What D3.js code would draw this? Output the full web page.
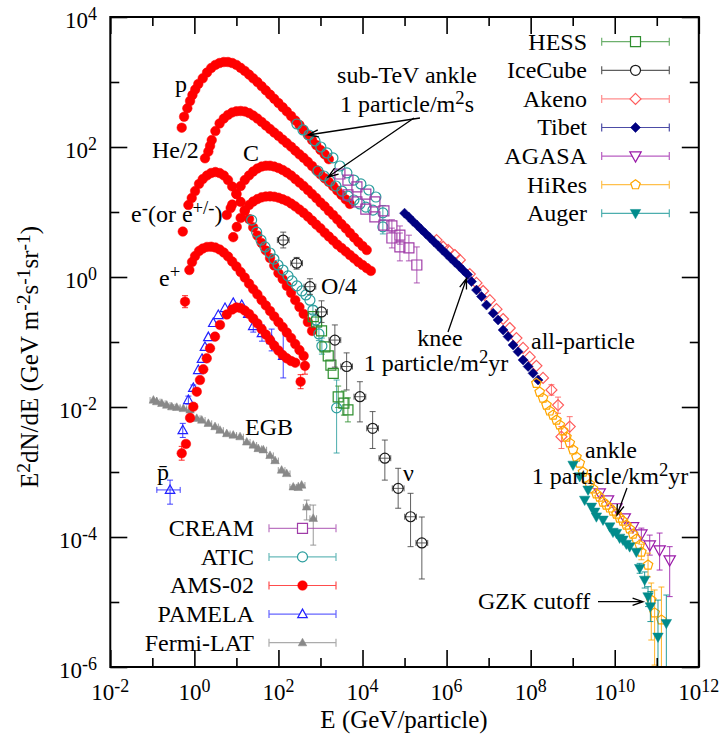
<!DOCTYPE html>
<html><head><meta charset="utf-8">
<script src="https://cdn.jsdelivr.net/npm/d3@7"></script>
<style>
body{margin:0;background:#fff;}
svg text{font-family:"Liberation Serif","Times New Roman",serif;fill:#000;}
</style></head><body>
<svg id="chart" width="719" height="745"></svg>
<script>
// ---------------- DATA (E in GeV/particle, F = E^2 dN/dE in GeV m^-2 s^-1 sr^-1) ----------------
// point format: [E, F, Flow, Fhigh, Elow, Ehigh] (error entries optional)
const xTickExponents = [-2,-1,0,1,2,3,4,5,6,7,8,9,10,11,12];
const yTickExponents = [-6,-5,-4,-3,-2,-1,0,1,2,3,4];
const xLabelExponents = ["-2","0","2","4","6","8","10","12"];
const yLabelExponents = ["-6","-4","-2","0","2","4"];

const amsProton = [[0.50,198],[0.57,292],[0.68,394],[0.79,510],[0.90,631],[1.05,767],[1.24,931],
 [1.58,1140],[2.0,1400],[2.51,1640],[3.16,1830],[3.98,1960],[5.01,2030],[6.31,2030],[7.94,1960],[10,1830],
 [12.6,1650],[15.8,1480],[20,1300],[25.1,1140],[31.6,1000],[39.8,861],[50.1,743],[63.1,640],[79.4,552],
 [100,475],[126,409],[158,352],[200,300],[251,256],[316,218],[398,183],[501,153],[631,128],[794,107],
 [1000,90],[1260,77],[1580,65]];
const amsHeliumHalf = [[1.79,67],[2.15,85],[2.36,104],[2.59,128],[3.16,176],[3.98,230],[5.01,274],[6.31,311],
 [7.94,340],[10,354],[12.6,358],[15.8,352],[20,333],[25.1,305],[31.6,274],[39.8,243],[50.1,214],[63.1,189],
 [79.4,167],[100,148],[126,130],[158,115],[200,101],[251,88],[316,77],[398,68],[501,59],[631,51],[794,44],
 [1000,38],[1260,33],[1580,29],[2000,25],[2510,21.4],[3160,18.3],[3980,15.6],[5010,13.3]];
const amsCarbon = [[5.9,9.0],[7.3,11.5],[7.94,13.0],[10,18.9],[12.6,25],[15.8,31],[20,36.5],[25.1,42],[31.6,46.7],
 [39.8,50],[50.1,51.5],[63.1,51.5],[79.4,50],[100,47.5],[126,44.3],[158,40.5],[200,36.5],[251,32.2],[316,28.4],
 [398,25.1],[501,21.8],[631,18.9],[794,16.4],[1000,14.0],[1260,12.2],[1580,10.4],[2000,9.0],[2510,7.7],
 [3160,6.5],[3980,5.6],[5010,4.75],[6310,4.05],[7940,3.45],[10000,3.0],[12600,2.6]];
const amsOxygenQuarter = [[8.4,4.1],[10.2,5.9],[12.6,8.1],[15.8,10.5],[20,12.8],[25.1,14.5],[31.6,15.8],[39.8,16.8],
 [50.1,17.3],[63.1,17.4],[79.4,17.2],[100,16.6],[126,15.7],[158,14.8],[200,13.5],[251,12.2],[316,10.9],[398,9.7],
 [501,8.5],[631,7.4],[794,6.4],[1000,5.6],[1260,4.8],[1580,4.2],[2000,3.65],[2510,3.16],[3160,2.8],[3980,2.47],
 [5010,2.18],[6310,1.93],[7940,1.70],[10000,1.53],[12600,1.37],[15800,1.24]];
const amsElectron = [[0.53,5.0],[0.72,12.8],[0.865,16.4],[1.04,21],[1.29,27],[1.58,32],[2.0,36.5],[2.51,39.8],
 [3.16,41.2],[3.98,39.8],[5.01,36.5],[6.31,31],[7.94,24.7],[10,18.9],[12.6,14.3],[15.8,10.5],[20,7.8],[25.1,5.8],
 [31.6,4.35],[39.8,3.33],[50.1,2.56],[63.1,1.96],[79.4,1.50],[100,1.15],[126,0.93],[158,0.73],[200,0.57],
 [251,0.44],[316,0.345],[398,0.27],[501,0.203],[631,0.148]];
const amsPositron = [[0.60,0.417,0.337,0.516],[0.76,1.28],[0.88,1.70],[1.04,2.10],[1.29,2.51],[1.58,2.74],[2.0,2.90],
 [2.51,2.92],[3.16,2.84],[3.98,2.65],[5.01,2.38],[6.31,2.07],[7.94,1.73],[10,1.45],[12.6,1.19],[15.8,0.98],
 [20,0.79],[25.1,0.65],[31.6,0.54],[39.8,0.44],[50.1,0.365],[63.1,0.30],[79.4,0.247],[100,0.203],[126,0.170],
 [158,0.140],[200,0.115],[251,0.093],[316,0.075],[398,0.061],[427,0.043,0.032,0.057]];
const amsAntiproton = [[0.50,0.00194,0.00152,0.00248],[0.63,0.0027],[0.79,0.0068],[0.945,0.0101],[1.14,0.0172],
 [1.36,0.026],[1.63,0.038],[1.97,0.056],[2.36,0.080],[3.10,0.121],[4.07,0.183],[5.9,0.265],[7.94,0.316],[10,0.34],
 [12.6,0.333],[15.8,0.305],[20,0.27],[25.1,0.23],[31.6,0.193],[39.8,0.158],[50.1,0.130],[63.1,0.107],[79.4,0.088],
 [100,0.074],[126,0.063],[158,0.056],[200,0.051],[251,0.048],[337,0.0245,0.0191,0.0314]];
const pamelaAntiproton = [[0.53,0.0044,0.0034,0.0056],[0.72,0.0128,0.0111,0.0147],[0.945,0.0196,0.0176,0.0218],
 [1.24,0.037],[1.52,0.055],[1.79,0.084],[2.15,0.119],[2.82,0.196],[3.71,0.26],[5.36,0.333],[8.4,0.40],[13.4,0.37],
 [19.2,0.27],[25.2,0.176,0.142,0.218],[40.6,0.137,0.103,0.182],[69,0.107,0.073,0.158],[130,0.061,0.028,0.153]];
const pamelaLowPbar = [[0.264,0.00053,0.00032,0.00075,0.128,0.46]];
const fermiEGB = [[0.106,0.0128],[0.127,0.0121],[0.168,0.0114],[0.220,0.0107],[0.290,0.0101],[0.381,0.0099],
 [0.547,0.0095],[0.79,0.009],[1.14,0.0067],[1.50,0.0063],[2.15,0.0056],[3.10,0.0050],[4.07,0.0044],[5.9,0.0039],
 [8.4,0.0037],[12.2,0.0035],[17.6,0.0029],[25.2,0.0026],[33,0.0023],[43.6,0.0022],[63,0.0018],[83,0.0015],
 [119,0.00107],[157,0.00095],[225,0.00059],[296,0.00058],[356,0.00063],[469,0.00029,0.000183,0.00037],
 [673,0.000194,0.000075,0.00031]];
const aticElectron = [[23,7.5],[30.3,4.9],[38.4,3.7],[47.9,2.9],[63,2.34],[78,1.89],[97.5,1.53],[128,1.28],[169,1.04],
 [210,0.87],[275,0.73],[362,0.61],[451,0.53],[561,0.44],[661,0.31,0.27,0.36],[780,0.218,0.18,0.26],
 [918,0.133,0.105,0.17],[1080,0.087,0.065,0.115],[2420,0.0097,0.00196,0.026]];
const aticProton = [[275,226],[383,183],[531,153],[738,124],[1020,100],[1420,81],[1980,68],[2900,51],[4250,40],
 [6240,31],[9150,27],[14200,21.8],[20800,17.0],[30500,9.7,7.5,12.6]];
const aticHelium = [[871,42.7],[1210,35.8],[1680,30],[2330,25.1],[3240,21],[4500,17.6],[6240,15.3],[8670,13.3],
 [12000,11.9],[17700,10.7],[30500,5.9,4.6,7.5]];
const creamProton = [[2900,38.4],[4500,31],[7360,24.3],[12000,18.9],[19700,14.3],[32300,10.4],[50000,6.1,4.9,7.6],
 [77500,4.4,3.2,6.1],[127000,2.8,1.77,4.4]];
const creamHelium = [[4500,18.3],[7360,14.3],[12000,11.1],[19700,8.4],[32300,6.3],[50000,3.98,2.8,5.65],
 [77500,2.9,1.77,4.75],[196000,1.53,0.81,2.9]];
const hessElectron = [[673,0.245],[809,0.203],[1060,0.148],[1280,0.084],[1530,0.061],[1770,0.044],[2010,0.033],
 [2640,0.0143,0.0098,0.021],[3610,0.0115,0.0075,0.0176],[4500,0.009,0.0059,0.0138]];
const iceCubeNeutrino = [[130,3.7,2.8,4.9],[271,1.63,1.32,2.0],[561,0.71,0.54,0.94],[1060,0.29,0.20,0.43],
 [2200,0.107,0.041,0.183],[4190,0.042,0.0183,0.068],[8670,0.0144,0.0059,0.0245],[17400,0.0047,0.0023,0.0085],
 [34000,0.00163,0.00075,0.0031],[70500,0.00056,0.000277,0.00114],[139000,0.000205,0.000071,0.00047],
 [258000,0.000081,0.0000226,0.000203]];
const akeno = [[5.77e5,3.7],[8.28e5,2.92],[1.09e6,2.60],[1.57e6,2.18],[2.07e6,1.83],[3.57e6,1.11],[5.15e6,0.81],
 [7.4e6,0.61],[1.07e7,0.44],[1.54e7,0.32],[2.21e7,0.226],[3.18e7,0.164],[4.59e7,0.115],[6.6e7,0.081],[9.5e7,0.059],
 [1.37e8,0.043],[1.97e8,0.028],[3.12e8,0.0183,0.0152,0.022],[4.48e8,0.0107,0.0080,0.0142],
 [5.4e8,0.0035,0.0023,0.0050],[8.5e8,0.0050,0.00245,0.0071]];
const tibet = [[1e5,9.6],[1.26e5,8.35],[1.58e5,7.2],[2e5,6.24],[2.51e5,5.40],[3.16e5,4.67],[3.98e5,4.04],[5.01e5,3.49],
 [6.31e5,3.02],[7.94e5,2.60],[1e6,2.26],[1.26e6,1.95],[1.58e6,1.69],[2e6,1.46],[2.51e6,1.26],[3.16e6,1.09],
 [3.92e6,0.85],[5.15e6,0.63],[6.78e6,0.50],[8.9e6,0.37],[1.28e7,0.277],[1.68e7,0.218],[2.21e7,0.153],[2.90e7,0.121],
 [3.82e7,0.090],[5.02e7,0.071],[6.6e7,0.053],[8.7e7,0.042],[1.14e8,0.033],[1.50e8,0.026]];
const agasa = [[4.39e9,0.000475],[6.9e9,0.00037],[1.10e10,0.00028],[1.73e10,0.000196],[2.72e10,0.000143],
 [4.30e10,0.000111,0.0000897,0.000137],[6.8e10,0.000075,0.0000526,0.000107],[1.17e11,0.000063,0.000031,0.000115],
 [2.03e11,0.0000443,0.0000121,0.000071]];
const hires = [[1.37e8,0.0232],[1.64e8,0.0170],[1.97e8,0.0137],[2.38e8,0.0107],[2.85e8,0.0087],[3.41e8,0.0075],
 [4.1e8,0.0063],[4.92e8,0.0053],[5.9e8,0.0043],[7.1e8,0.00345],[8.5e8,0.0028],[1.02e9,0.0022],
 [1.23e9,0.0017],[1.47e9,0.00137],[1.76e9,0.0010],[2.12e9,0.00081],[2.54e9,0.00065],[3.04e9,0.00055],
 [3.66e9,0.00046],[4.39e9,0.00041],[5.26e9,0.000345],[6.3e9,0.00031],[7.6e9,0.00028],[9.1e9,0.00025],
 [1.10e10,0.000226],[1.31e10,0.000196],[1.57e10,0.000176],[1.89e10,0.000153],[2.27e10,0.000133],[2.72e10,0.000111],
 [3.27e10,0.000093],[3.92e10,0.000075],[4.30e10,0.0000588,0.0000446,0.0000775],
 [6.2e10,0.000037,0.0000243,0.0000565],[7.4e10,0.0000107,0.0000026,0.0000196],[8.9e10,0.0000068,0.00000107,0.0000153],
 [1.29e11,0.0000053,0.000001,0.000017]];
const auger = [[1.02e9,0.00128],[1.47e9,0.00085],[1.93e9,0.00037],[2.32e9,0.00053],[2.79e9,0.00029],[3.34e9,0.000243],
 [3.66e9,0.000205],[5.26e9,0.000183],[7.6e9,0.000144],[9.1e9,0.000119],[1.10e10,0.000114],[1.31e10,0.0000966],
 [1.57e10,0.000090],[1.89e10,0.000078],[2.27e10,0.000071],[3.27e10,0.0000588],
 [3.92e10,0.000033,0.0000277,0.0000393],[5.15e10,0.0000218,0.0000164,0.000029],[6.2e10,0.0000121,0.0000085,0.0000172],
 [7.05e10,0.0000085,0.000005,0.0000145],[1.07e11,0.0000029,0.000001,0.0000107],[1.69e11,0.0000047,0.000001,0.0000128]];

const legendTopNames = ["HESS","IceCube","Akeno","Tibet","AGASA","HiRes","Auger"];
const legendBottomNames = ["CREAM","ATIC","AMS-02","PAMELA","Fermi-LAT"];

// ---------------- STYLE ----------------
const styles = {
  "HESS":{color:"#2f8f2f",shape:"square",size:5,fill:false},
  "IceCube":{color:"#1a1a1a",shape:"circle",size:5,fill:false},
  "Akeno":{color:"#ff5c5c",shape:"diamond",size:5.5,fill:false},
  "Tibet":{color:"#000080",shape:"diamond",size:5,fill:true},
  "AGASA":{color:"#9a1aa8",shape:"triDown",size:6,fill:false},
  "HiRes":{color:"#ffa500",shape:"pentagon",size:5,fill:false},
  "Auger":{color:"#008b8b",shape:"triDown",size:5.5,fill:true},
  "CREAM":{color:"#a03ca8",shape:"square",size:5,fill:false},
  "ATIC":{color:"#2a9d9d",shape:"circle",size:5,fill:false},
  "AMS-02":{color:"#ff0000",shape:"circle",size:4.8,fill:true},
  "PAMELA":{color:"#2222ff",shape:"triUp",size:5,fill:false},
  "Fermi-LAT":{color:"#888888",shape:"triUp",size:4.5,fill:true}
};
const FS = 24, TICKFS = 23;

const svg = d3.select("#chart");
const L=110.3,R=698.8,T=17,B=667;
const x = d3.scaleLog().domain([1e-2,1e12]).range([L,R]);
const y = d3.scaleLog().domain([1e-6,1e4]).range([B,T]);

svg.append("defs").append("clipPath").attr("id","clip").append("rect")
  .attr("x",L).attr("y",T).attr("width",R-L).attr("height",B-T);
const plot = svg.append("g").attr("clip-path","url(#clip)");

function markerPath(shape,s){
  switch(shape){
    case "circle": return `M${s},0A${s},${s} 0 1,1 ${-s},0A${s},${s} 0 1,1 ${s},0Z`;
    case "square": return `M${-s},${-s}H${s}V${s}H${-s}Z`;
    case "diamond": return `M0,${-s}L${s},0L0,${s}L${-s},0Z`;
    case "triUp": return `M0,${-s}L${s*0.95},${s*0.7}L${-s*0.95},${s*0.7}Z`;
    case "triDown": return `M0,${s}L${s*0.95},${-s*0.7}L${-s*0.95},${-s*0.7}Z`;
    case "pentagon": {
      const p=d3.range(5).map(i=>{const a=-Math.PI/2+i*2*Math.PI/5;return [s*Math.cos(a),s*Math.sin(a)];});
      return "M"+p.map(q=>q[0].toFixed(2)+","+q[1].toFixed(2)).join("L")+"Z";
    }
  }
}
function styleMarker(sel,st){
  sel.attr("fill",st.fill?st.color:"none").attr("stroke",st.color).attr("stroke-width",st.fill?0.5:1.2);
}
function drawSeries(data,name,opts={}){
  const st=styles[name];
  const g=plot.append("g");
  const cap=3;
  data.forEach(d=>{
    const cx=x(d[0]), cy=y(d[1]);
    let elo=d[4], ehi=d[5];
    if(elo==null && opts.xFactor){elo=d[0]/opts.xFactor; ehi=d[0]*opts.xFactor;}
    if(d[2]!=null && d[3]!=null){
      const y1=y(d[3]), y2=y(d[2]);
      g.append("path").attr("d",`M${cx},${y1}V${y2}M${cx-cap},${y1}H${cx+cap}M${cx-cap},${y2}H${cx+cap}`)
        .attr("stroke",opts.errColor||st.color).attr("stroke-width",1).attr("fill","none").attr("opacity",0.85);
    }
    if(elo!=null && ehi!=null){
      const x1=x(elo), x2=x(ehi);
      g.append("path").attr("d",`M${x1},${cy}H${x2}M${x1},${cy-cap}V${cy+cap}M${x2},${cy-cap}V${cy+cap}`)
        .attr("stroke",opts.errColor||st.color).attr("stroke-width",1).attr("fill","none").attr("opacity",0.85);
    }
  });
  g.selectAll("path.m").data(data).join("path").attr("class","m")
    .attr("d",markerPath(st.shape,st.size))
    .attr("transform",d=>`translate(${x(d[0])},${y(d[1])})`)
    .call(styleMarker,st);
}

drawSeries(fermiEGB,"Fermi-LAT",{xFactor:1.2});
drawSeries(pamelaAntiproton,"PAMELA");
drawSeries(pamelaLowPbar,"PAMELA");
[amsAntiproton,amsPositron,amsElectron,amsOxygenQuarter,amsCarbon,amsHeliumHalf,amsProton].forEach(s=>drawSeries(s,"AMS-02"));
drawSeries(aticElectron,"ATIC");
drawSeries(aticProton,"ATIC");
drawSeries(aticHelium,"ATIC");
drawSeries(creamProton,"CREAM");
drawSeries(creamHelium,"CREAM");
drawSeries(hessElectron,"HESS");
drawSeries(iceCubeNeutrino,"IceCube",{xFactor:1.38,errColor:"#444"});
drawSeries(akeno,"Akeno");
drawSeries(tibet,"Tibet");
drawSeries(agasa,"AGASA");
drawSeries(hires,"HiRes");
drawSeries(auger,"Auger");

// ---------------- AXES ----------------
function axis(gen,tr,vals,size){
  const g=svg.append("g").attr("transform",tr)
    .call(gen.tickValues(vals).tickSizeInner(-size).tickSizeOuter(0).tickFormat(""));
  g.select(".domain").remove();
  g.selectAll(".tick line").attr("stroke","#000").attr("stroke-width",1.6);
}
const xMajor=xTickExponents.filter(e=>e%2===0).map(e=>Math.pow(10,e));
const xMinor=xTickExponents.filter(e=>e%2!==0).map(e=>Math.pow(10,e));
const yMajor=yTickExponents.filter(e=>e%2===0).map(e=>Math.pow(10,e));
const yMinor=yTickExponents.filter(e=>e%2!==0).map(e=>Math.pow(10,e));
axis(d3.axisBottom(x),`translate(0,${B})`,xMajor,17);
axis(d3.axisBottom(x),`translate(0,${B})`,xMinor,9);
axis(d3.axisTop(x),`translate(0,${T})`,xMajor,17);
axis(d3.axisTop(x),`translate(0,${T})`,xMinor,9);
axis(d3.axisLeft(y),`translate(${L},0)`,yMajor,17);
axis(d3.axisLeft(y),`translate(${L},0)`,yMinor,9);
axis(d3.axisRight(y),`translate(${R},0)`,yMajor,17);
axis(d3.axisRight(y),`translate(${R},0)`,yMinor,9);
svg.append("rect").attr("x",L).attr("y",T).attr("width",R-L).attr("height",B-T)
  .attr("fill","none").attr("stroke","#000").attr("stroke-width",2);

// rich text helper: parts = [[text, isSup], ...]
function rich(xp,yp,parts,anchor,size){
  size=size||FS;
  const t=svg.append("text").attr("x",xp).attr("y",yp).attr("text-anchor",anchor||"start").attr("font-size",size);
  let raised=false;
  parts.forEach(p=>{
    const [txt,sup]=Array.isArray(p)?p:[p,false];
    const ts=t.append("tspan").text(txt);
    if(sup && !raised){ts.attr("dy",-8).attr("font-size",size*0.78);raised=true;}
    else if(sup){ts.attr("font-size",size*0.78);}
    else if(!sup && raised){ts.attr("dy",8);raised=false;}
  });
  return t;
}
xLabelExponents.forEach(e=>rich(x(Math.pow(10,+e)),700,["10",[e,true]],"middle",TICKFS));
yLabelExponents.forEach(e=>rich(97,y(Math.pow(10,+e))+11,["10",[e,true]],"end",TICKFS));

rich(404,728,["E (GeV/particle)"],"middle",25);
rich(0,0,["E",["2",true],"dN/dE (GeV m",["-2",true],"s",["-1",true],"sr",["-1",true],")"],"middle",25)
  .attr("transform","translate(38,357) rotate(-90)");

// ---------------- LEGENDS ----------------
function legend(names,labelX,lineX1,lineX2,y0,dy){
  names.forEach((n,i)=>{
    const st=styles[n], cy=y0+i*dy, mx=(lineX1+lineX2)/2;
    svg.append("text").attr("x",labelX).attr("y",cy+7.8).attr("text-anchor","end").attr("font-size",FS).text(n);
    svg.append("path").attr("d",`M${lineX1},${cy}H${lineX2}M${lineX1},${cy-4}V${cy+4}M${lineX2},${cy-4}V${cy+4}`)
      .attr("stroke",st.color).attr("stroke-width",1.2).attr("fill","none").attr("opacity",0.7);
    svg.append("path").attr("d",markerPath(st.shape,st.size)).attr("transform",`translate(${mx},${cy})`)
      .attr("fill",st.fill?st.color:"#fff").attr("stroke",st.color).attr("stroke-width",st.fill?0.5:1.2);
  });
}
legend(legendTopNames,587,601.7,669.3,41.7,28.6);
legend(legendBottomNames,254,269,336,528.3,28.6);

// ---------------- ANNOTATIONS ----------------
rich(175,92,["p"]);
rich(152,158,["He/2"]);
rich(243,161,["C"]);
rich(131,222,["e",["-",true],"(or e",["+/-",true],")"]);
rich(159,286,["e",["+",true]]);
rich(321,294,["O/4"]);
rich(157,480,["p\u0304"]);
rich(245,435,["EGB"]);
rich(403,481,["\u03bd"]);
rich(407,83,["sub-TeV ankle"],"middle");
rich(407,112,["1 particle/m",["2",true],"s"],"middle");
rich(440,346,["knee"],"middle");
rich(436,371,["1 particle/m",["2",true],"yr"],"middle");
rich(531,349,["all-particle"]);
rich(611,458,["ankle"],"middle");
rich(610,484,["1 particle/km",["2",true],"yr"],"middle");
rich(478,609,["GZK cutoff"]);

function arrow(x1,y1,x2,y2){
  const a=Math.atan2(y2-y1,x2-x1), len=11, h=0.33;
  const p1=[x2-len*Math.cos(a-h),y2-len*Math.sin(a-h)], p2=[x2-len*Math.cos(a+h),y2-len*Math.sin(a+h)];
  svg.append("path").attr("d",`M${x1},${y1}L${x2},${y2}M${p1[0]},${p1[1]}L${x2},${y2}L${p2[0]},${p2[1]}`)
    .attr("stroke","#000").attr("stroke-width",1.3).attr("fill","none");
}
arrow(420,118,308,135);
arrow(414,118,328,177);
arrow(448,332,466.5,278.5);
arrow(627,488,617,515);
arrow(598,601.7,643,601.7);
</script>
</body></html>
